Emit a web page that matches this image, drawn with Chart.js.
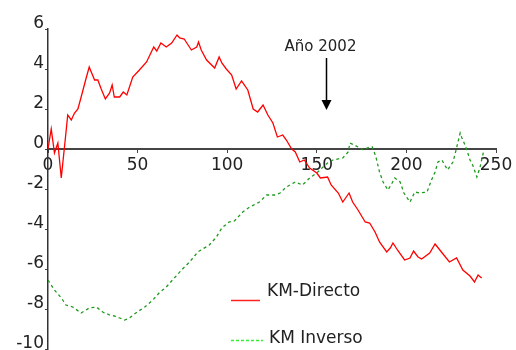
<!DOCTYPE html>
<html>
<head>
<meta charset="utf-8">
<script src="https://cdn.jsdelivr.net/npm/chart.js@4"></script>
<style>
  html, body { margin: 0; padding: 0; background: #fff; }
  #wrap { width: 516px; height: 350px; }
</style>
</head>
<body>
<div id="wrap"><canvas id="grafico"></canvas></div>
<script>
// Datos
const directoX = [0, 1.8, 3.6, 5.5, 7.4, 10, 11, 13, 14.8, 16.7, 18.5, 21, 23, 26, 27.8, 29.7, 32, 34.4, 35.8, 37, 40, 42, 44, 47.3, 51, 55, 59, 60.7, 63, 66, 69, 72, 73.5, 76, 80, 83, 84, 85.5, 88.5, 93, 95.5, 97, 99.5, 102.5, 105, 108, 111.5, 114.5, 117, 120, 122.7, 125.5, 128, 131, 133, 136, 138, 140.5, 143, 146, 150, 152, 156, 158, 162, 164.5, 168, 170, 173, 177, 179.5, 182.5, 185, 189, 191, 192.5, 195, 199, 202, 204, 206.5, 208.5, 213, 216, 220, 224, 228, 231.5, 235.5, 238, 240, 242];
const directoY = [0, 1.0, -0.2, 0.3, -1.45, 0.8, 1.7, 1.45, 1.8, 2.0, 2.6, 3.45, 4.1, 3.45, 3.45, 3.0, 2.5, 2.8, 3.2, 2.6, 2.6, 2.85, 2.7, 3.6, 3.95, 4.35, 5.1, 4.9, 5.3, 5.1, 5.3, 5.7, 5.55, 5.5, 4.95, 5.1, 5.35, 4.95, 4.45, 4.05, 4.6, 4.3, 4.0, 3.7, 3.0, 3.4, 2.95, 2.0, 1.85, 2.2, 1.7, 1.3, 0.6, 0.7, 0.45, 0.0, -0.15, -0.65, -0.55, -0.95, -1.2, -1.45, -1.4, -1.8, -2.2, -2.65, -2.2, -2.65, -3.05, -3.65, -3.7, -4.15, -4.65, -5.15, -4.95, -4.7, -5.05, -5.55, -5.45, -5.1, -5.4, -5.5, -5.2, -4.75, -5.2, -5.65, -5.45, -6.05, -6.35, -6.65, -6.3, -6.45];

const inversoX = [0, 3.6, 7.5, 10, 13.8, 18.5, 23, 27, 30.5, 34.4, 37, 40, 42.7, 45.5, 49, 54, 58.5, 62, 66, 69.5, 74.5, 79, 83.6, 90, 94, 97, 101, 104, 108.7, 112.6, 118, 122, 126.5, 129.5, 133, 138, 142, 146, 150, 153.5, 156, 159, 164.5, 167.5, 168.5, 171, 173, 176, 179.5, 181, 183, 185, 187, 189.7, 192, 193.5, 196.5, 198.6, 202, 204.7, 207.5, 211.5, 214, 216, 217.6, 219.8, 223, 226, 228, 230, 231, 232.7, 233.7, 235.5, 237, 239.3, 241, 243];
const inversoY = [-6.55, -7.05, -7.45, -7.8, -7.9, -8.2, -7.95, -7.9, -8.15, -8.3, -8.35, -8.45, -8.55, -8.45, -8.2, -7.9, -7.55, -7.2, -6.9, -6.55, -6.05, -5.65, -5.15, -4.8, -4.4, -3.95, -3.65, -3.6, -3.15, -2.9, -2.65, -2.3, -2.3, -2.2, -1.9, -1.65, -1.8, -1.45, -1.2, -0.9, -0.7, -0.55, -0.45, -0.15, 0.3, 0.2, 0.1, -0.05, 0.1, 0.1, -0.4, -1.15, -1.65, -2.05, -1.7, -1.45, -1.65, -2.2, -2.65, -2.15, -2.2, -2.15, -1.55, -1.15, -0.65, -0.55, -1.05, -0.65, 0.05, 0.8, 0.55, 0.2, -0.05, -0.55, -0.8, -1.4, -0.95, -0.15];

const nombres = ['KM-Directo', 'KM Inverso'];
const xTicks = [0, 50, 100, 150, 200, 250];
const yTicks = [-10, -8, -6, -4, -2, 0, 2, 4, 6];

// Anotacion: flecha en el año 2002
const anioX = 155;
const anioTexto = 'Año 2002';
const flechaY = [4.55, 1.95];

const puntos = (xs, ys) => xs.map((x, i) => ({ x: x, y: ys[i] }));

const fuente = '"DejaVu Sans", Verdana, sans-serif';

// Leyenda y flecha dibujadas a mano
const extras = {
    id: 'extras',
    afterDraw(chart) {
        const ctx = chart.ctx;
        const sx = chart.scales.x;
        const sy = chart.scales.y;
        ctx.save();

        // flecha
        const ax = Math.round(sx.getPixelForValue(anioX)) + 0.5;
        const y1 = sy.getPixelForValue(flechaY[0]);
        const y2 = sy.getPixelForValue(flechaY[1]);
        ctx.strokeStyle = '#000';
        ctx.lineWidth = 1.5;
        ctx.beginPath();
        ctx.moveTo(ax, y1);
        ctx.lineTo(ax, y2 - 8);
        ctx.stroke();
        ctx.fillStyle = '#000';
        ctx.beginPath();
        ctx.moveTo(ax - 5, y2 - 10);
        ctx.lineTo(ax + 5, y2 - 10);
        ctx.lineTo(ax, y2);
        ctx.closePath();
        ctx.fill();

        ctx.font = '15px ' + fuente;
        ctx.fillStyle = '#222';
        ctx.textAlign = 'center';
        ctx.textBaseline = 'middle';
        ctx.fillText(anioTexto, ax - 6, y1 - 11);

        // leyenda
        const ds = chart.data.datasets;
        const filas = [300, 340];
        ctx.font = '17px ' + fuente;
        ctx.textAlign = 'left';
        ds.forEach((d, i) => {
            const ly = filas[i] + 0.5;
            ctx.strokeStyle = i === 0 ? '#ff2020' : '#33ee33';
            ctx.lineWidth = 1.5;
            ctx.setLineDash(i === 0 ? [] : [3, 2]);
            ctx.beginPath();
            ctx.moveTo(231, ly);
            ctx.lineTo(i === 0 ? 260 : 263, ly);
            ctx.stroke();
            ctx.setLineDash([]);
            ctx.fillStyle = '#222';
            ctx.fillText(d.label, i === 0 ? 267 : 269, filas[i] - (i === 0 ? 8 : 1));
        });
        ctx.restore();
    }
};

const ctx = document.getElementById('grafico').getContext('2d');
new Chart(ctx, {
    type: 'line',
    data: {
        datasets: [{
            label: nombres[0],
            data: puntos(directoX, directoY),
            borderColor: '#ff0000',
            borderWidth: 1.3,
            pointRadius: 0,
            tension: 0,
            fill: false
        }, {
            label: nombres[1],
            data: puntos(inversoX, inversoY),
            borderColor: '#1f9a1f',
            borderWidth: 1.3,
            borderDash: [3, 3],
            pointRadius: 0,
            tension: 0,
            fill: false
        }]
    },
    options: {
        responsive: true,
        maintainAspectRatio: false,
        animation: false,
        layout: { padding: { top: 29, left: 0, right: 20, bottom: 1 } },
        plugins: {
            legend: { display: false },
            tooltip: { enabled: false }
        },
        scales: {
            x: {
                type: 'linear',
                position: { y: 0 },
                min: 0,
                max: 250,
                afterBuildTicks: (s) => { s.ticks = xTicks.map(v => ({ value: v })); },
                grid: { drawOnChartArea: false, drawTicks: true, tickLength: 3, color: '#444' },
                border: { display: true, color: '#444', width: 2 },
                ticks: {
                    padding: 3,
                    maxRotation: 0,
                    color: '#222',
                    font: { family: fuente, size: 17 }
                }
            },
            y: {
                type: 'linear',
                position: 'left',
                min: -10,
                max: 6,
                afterBuildTicks: (s) => { s.ticks = yTicks.map(v => ({ value: v })); },
                afterFit: (s) => {
                    s.width = 48;
                    s.paddingTop = 0;
                    s.paddingBottom = 0;
                },
                grid: { drawOnChartArea: false, drawTicks: true, tickLength: 3, color: '#444' },
                border: { display: true, color: '#333', width: 1.5 },
                ticks: {
                    padding: 1,
                    labelOffset: -5,
                    color: '#222',
                    font: { family: fuente, size: 17 }
                }
            }
        }
    },
    plugins: [extras]
});
</script>
</body>
</html>
